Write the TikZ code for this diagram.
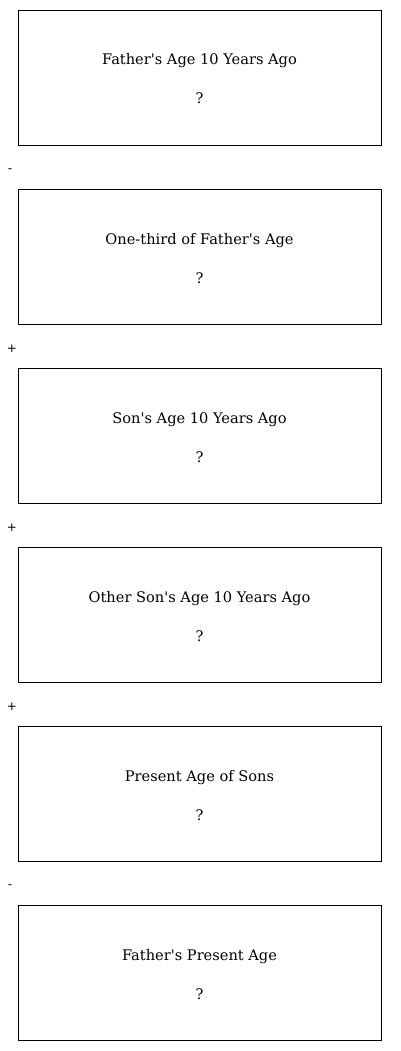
\documentclass[tikz,border=0pt]{standalone}
\usepackage{fontspec}
\newfontfamily\opfont{DejaVu Sans}
\newfontfamily\lblfont{DejaVu Serif}[Ligatures=TeXOff]
\begin{document}
\begin{tikzpicture}[x=1pt,y=-1pt,
  box/.style={draw,line width=0.8pt,minimum width=363pt,minimum height=135pt,anchor=north west,inner sep=0pt},
  lbl/.style={font=\lblfont\fontsize{14.6}{17}\selectfont,anchor=base},
  op/.style={font=\opfont\fontsize{12}{14}\selectfont}]
\useasboundingbox (0,0) rectangle (400,1051);
\foreach \i/\t in {0/Father's Age 10 Years Ago,1/One-third of Father's Age,2/Son's Age 10 Years Ago,3/Other Son's Age 10 Years Ago,4/Present Age of Sons,5/Father's Present Age}{
  \node[box] (b\i) at (18,10+179*\i) {};
  \node[lbl] (t\i) at (199.5,65+179*\i) {\t};
  \node[lbl] (q\i) at (199.5,104+179*\i) {?};
}
\node[op] (o1) at (10,171) {-};
\node[op] (o2) at (12,349) {+};
\node[op] (o3) at (12,528) {+};
\node[op] (o4) at (12,707) {+};
\node[op] (o5) at (10,887) {-};
\end{tikzpicture}
\end{document}
